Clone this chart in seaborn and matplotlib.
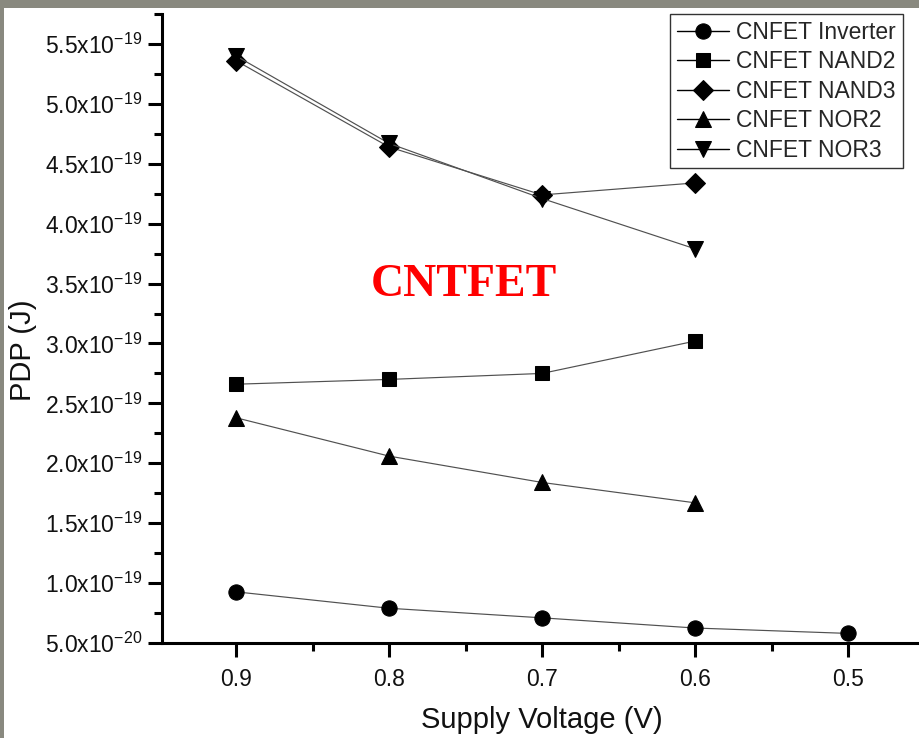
import matplotlib
matplotlib.use("Agg")
import matplotlib.pyplot as plt
import seaborn as sns
import pandas as pd
import numpy as np
from matplotlib.ticker import FuncFormatter, FixedLocator
from matplotlib.patches import Rectangle

# ---- data ----
voltage_inv = [0.9, 0.8, 0.7, 0.6, 0.5]
voltage = [0.9, 0.8, 0.7, 0.6]
inverter = [0.927e-19, 0.79e-19, 0.71e-19, 0.625e-19, 0.58e-19]
nand2 = [2.66e-19, 2.70e-19, 2.75e-19, 3.02e-19]
nand3 = [5.36e-19, 4.64e-19, 4.24e-19, 4.34e-19]
nor2 = [2.38e-19, 2.06e-19, 1.84e-19, 1.67e-19]
nor3 = [5.40e-19, 4.67e-19, 4.21e-19, 3.79e-19]
series_names = ["CNFET Inverter", "CNFET NAND2", "CNFET NAND3", "CNFET NOR2", "CNFET NOR3"]
x_ticks = [0.9, 0.8, 0.7, 0.6, 0.5]
x_minor = [0.85, 0.75, 0.65, 0.55]
y_ticks = [0.5e-19, 1.0e-19, 1.5e-19, 2.0e-19, 2.5e-19, 3.0e-19,
           3.5e-19, 4.0e-19, 4.5e-19, 5.0e-19, 5.5e-19]
y_minor = [0.75e-19, 1.25e-19, 1.75e-19, 2.25e-19, 2.75e-19, 3.25e-19,
           3.75e-19, 4.25e-19, 4.75e-19, 5.25e-19, 5.75e-19]
x_label = "Supply Voltage (V)"
y_label = "PDP (J)"
annotation = "CNTFET"

rows = []
for name, xs, ys in zip(series_names,
                        [voltage_inv, voltage, voltage, voltage, voltage],
                        [inverter, nand2, nand3, nor2, nor3]):
    for xv, yv in zip(xs, ys):
        rows.append({"series": name, "voltage": xv, "pdp": yv})
df = pd.DataFrame(rows)

sns.set_style("white")
plt.rcParams["font.family"] = ["Liberation Sans", "DejaVu Sans"]
plt.rcParams["mathtext.fontset"] = "custom"
plt.rcParams["mathtext.rm"] = "Liberation Sans"
plt.rcParams["mathtext.it"] = "Liberation Sans"
plt.rcParams["mathtext.bf"] = "Liberation Sans:bold"

fig = plt.figure(figsize=(9.2, 7.38), dpi=100)
ax = fig.add_axes([162 / 920, 1 - 643 / 738, 1 - 162 / 920, (643 - 14) / 738])

markers = {"CNFET Inverter": ("o", 11), "CNFET NAND2": ("s", 10),
           "CNFET NAND3": ("D", 10), "CNFET NOR2": ("^", 12),
           "CNFET NOR3": ("v", 12)}
for name in series_names:
    sub = df[df["series"] == name]
    m, ms = markers[name]
    sns.lineplot(data=sub, x="voltage", y="pdp", ax=ax, color="#505050",
                 lw=0.85, marker=m, ms=ms, markerfacecolor="black",
                 markeredgecolor="black", label=name, estimator=None, sort=False)

ax.set_xlim(0.9484, 0.453)
ax.set_ylim(0.5e-19, 5.75e-19)
ax.xaxis.set_major_locator(FixedLocator(x_ticks))
ax.xaxis.set_minor_locator(FixedLocator(x_minor))
ax.yaxis.set_major_locator(FixedLocator(y_ticks))
ax.yaxis.set_minor_locator(FixedLocator(y_minor))


def yfmt(v, pos):
    if v <= 0:
        return ""
    e = int(np.floor(np.log10(v) + 1e-6))
    mnt = v / 10 ** e
    return f"{mnt:.1f}x10$^{{{e}}}$"


ax.yaxis.set_major_formatter(FuncFormatter(yfmt))
ax.xaxis.set_major_formatter(FuncFormatter(lambda v, p: f"{v:.1f}"))

for side in ["top", "right"]:
    ax.spines[side].set_visible(False)
for side in ["left", "bottom"]:
    ax.spines[side].set_linewidth(2.2)
    ax.spines[side].set_color("black")

ax.tick_params(axis="both", which="major", direction="out", length=10, width=2.2,
               labelsize=16.5, colors="black", labelcolor="#111111", left=True, bottom=True)
ax.tick_params(axis="both", which="minor", direction="out", length=6, width=2.2,
               left=True, bottom=True, colors="black")
ax.tick_params(axis="x", which="major", pad=8)
ax.tick_params(axis="y", which="major", pad=4)

ax.set_xlabel(x_label, fontsize=21, color="#111111")
ax.set_ylabel(y_label, fontsize=21, color="#111111")
ax.xaxis.set_label_coords((542 - 162) / 758, -(706 - 643) / 630)
ax.yaxis.set_label_coords(-(162 - 37) / 758, (643 - 350) / 630)

ax.text(0.398, 0.569, annotation, transform=ax.transAxes, ha="center", va="center",
        fontsize=33, fontweight="bold", color="#ff0000",
        family=["Liberation Serif", "DejaVu Serif"])

leg = ax.legend(loc="upper right", bbox_to_anchor=((903 - 162) / 758, 1.0),
                borderaxespad=0, fontsize=16.5, frameon=True, fancybox=False,
                edgecolor="black", handlelength=2.3, handletextpad=0.3,
                labelspacing=0.28, borderpad=0.3)
leg.get_frame().set_linewidth(1.0)
for h in leg.legend_handles:
    h.set_color("black")
    h.set_markerfacecolor("black")
    h.set_linewidth(1.0)

# slide-style gray border (top and left)
fig.patches.append(Rectangle((0, 1 - 8 / 738), 1, 8 / 738, transform=fig.transFigure,
                             facecolor="#89897f", edgecolor="none", zorder=10))
fig.patches.append(Rectangle((0, 0), 4 / 920, 1, transform=fig.transFigure,
                             facecolor="#89897f", edgecolor="none", zorder=10))

fig.savefig("out.png", dpi=100)
